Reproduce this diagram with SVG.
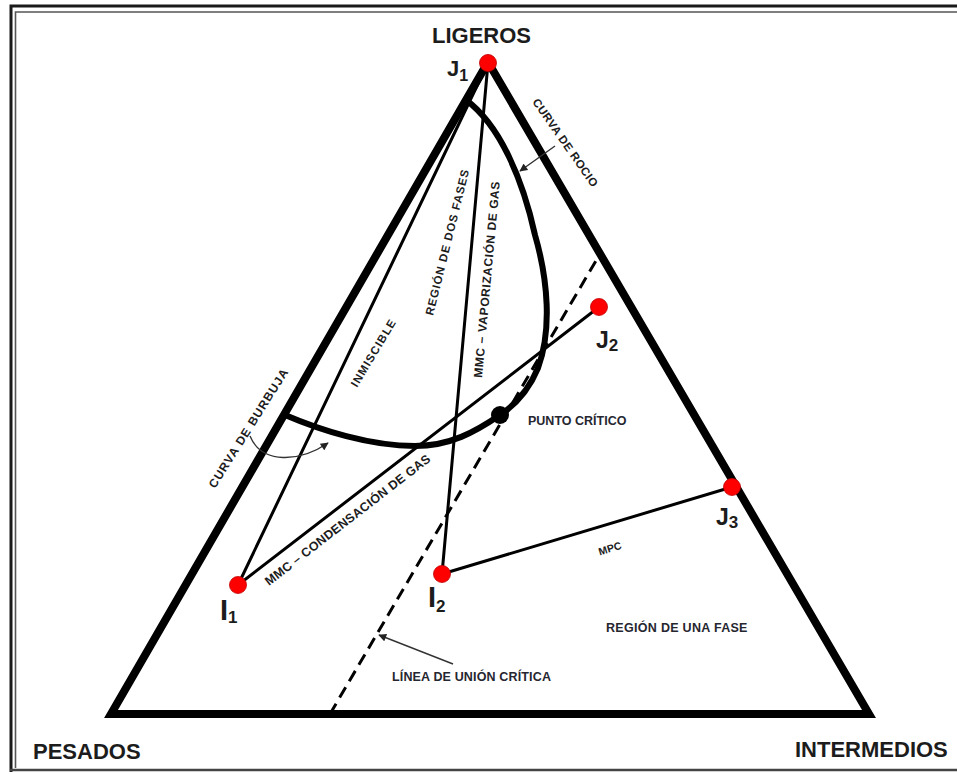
<svg xmlns="http://www.w3.org/2000/svg" width="957" height="774" viewBox="0 0 957 774">
  <style>
    .lbl { font-family: "Liberation Sans", Arial, sans-serif; font-weight: bold; fill: #1c1c1c; }
    .small { font-size: 12.5px; fill: #262630; }
    .big { font-size: 22px; }
    .tie { stroke: #000; stroke-width: 3; fill: none; stroke-linecap: round; }
    .pt { fill: #ff0000; stroke: #c00000; stroke-width: 0.8; }
    .ptr { stroke: #333; stroke-width: 1.4; fill: none; }
  </style>
  <defs>
    <marker id="arrowhead" viewBox="0 0 10 10" refX="9" refY="5" markerWidth="9" markerHeight="8" markerUnits="userSpaceOnUse" orient="auto">
      <path d="M0,0 L10,5 L0,10 z" fill="#222"/>
    </marker>
  </defs>

  <rect width="957" height="774" fill="#fff"/>

  <!-- double page frame -->
  <g id="frame" fill="none">
    <path d="M11,772 V6 H957" stroke="#1a1a1a" stroke-width="3"/>
    <path d="M15.5,768 V12 H957" stroke="#555" stroke-width="1.6"/>
    <path d="M10,770 H957" stroke="#444" stroke-width="2.5"/>
  </g>

  <g id="connectors">
    <!-- critical tie line -->
    <line x1="330" y1="714" x2="597" y2="259" stroke="#000" stroke-width="3" stroke-dasharray="12 7"/>
    <!-- displacement paths -->
    <line class="tie" x1="488" y1="63" x2="238" y2="585"/>
    <line class="tie" x1="488" y1="63" x2="442" y2="574"/>
    <line class="tie" x1="238" y1="585" x2="599" y2="307"/>
    <line class="tie" x1="442" y1="574" x2="732" y2="487"/>
    <!-- two-phase envelope: dew curve then bubble curve -->
    <path d="M466,100 C500,125 523,180 535,235 C548,280 552,330 538,368 C528,392 515,405 500,415 C475,432 450,446 415,446 C370,446 320,430 285,415" fill="none" stroke="#000" stroke-width="6"/>
    <!-- ternary triangle -->
    <path d="M488,62 L869,714 L111,714 Z" fill="none" stroke="#000" stroke-width="8" stroke-linejoin="miter"/>
    <!-- label pointers -->
    <line class="ptr" x1="555" y1="146" x2="520" y2="171" marker-end="url(#arrowhead)"/>
    <path class="ptr" d="M250,436 C262,465 300,462 328,443" marker-end="url(#arrowhead)"/>
    <line class="ptr" x1="453" y1="664" x2="379" y2="635" marker-end="url(#arrowhead)"/>
  </g>

  <g id="J1">
    <circle class="pt" cx="488" cy="63" r="8.5"/>
    <text class="lbl" x="447" y="76" font-size="22">J<tspan font-size="16" dy="5">1</tspan></text>
  </g>
  <g id="J2">
    <circle class="pt" cx="599" cy="307" r="8.5"/>
    <text class="lbl" x="596" y="348" font-size="23">J<tspan font-size="17" dy="3">2</tspan></text>
  </g>
  <g id="J3">
    <circle class="pt" cx="732" cy="487" r="8.5"/>
    <text class="lbl" x="716" y="525" font-size="23">J<tspan font-size="17" dy="3">3</tspan></text>
  </g>
  <g id="I1">
    <circle class="pt" cx="238" cy="585" r="8.5"/>
    <text class="lbl" x="220" y="620" font-size="29">I<tspan font-size="17" dy="3">1</tspan></text>
  </g>
  <g id="I2">
    <circle class="pt" cx="442" cy="574" r="8.5"/>
    <text class="lbl" x="428" y="607" font-size="29">I<tspan font-size="17" dy="5">2</tspan></text>
  </g>
  <g id="critical-point">
    <circle cx="500" cy="415" r="9" fill="#000"/>
    <text class="lbl small" x="528" y="425">PUNTO CRÍTICO</text>
  </g>

  <g id="labels">
    <text class="lbl big" x="432" y="43">LIGEROS</text>
    <text class="lbl big" x="33" y="759">PESADOS</text>
    <text class="lbl big" x="795" y="757">INTERMEDIOS</text>
    <text class="lbl small" x="606" y="632" letter-spacing="0.3">REGIÓN DE UNA FASE</text>
    <text class="lbl small" x="392" y="681" letter-spacing="0.15">LÍNEA DE UNIÓN CRÍTICA</text>
    <text class="lbl" font-size="11.5" letter-spacing="0.4" transform="translate(532,102) rotate(55)">CURVA DE ROCIO</text>
    <text class="lbl" font-size="11.5" letter-spacing="0.9" transform="translate(433,316) rotate(-76)">REGIÓN DE DOS FASES</text>
    <text class="lbl" font-size="12" letter-spacing="0.6" transform="translate(482,378) rotate(-84.8)">MMC – VAPORIZACIÓN DE GAS</text>
    <text class="lbl" font-size="11.5" letter-spacing="1.1" transform="translate(357,388) rotate(-59)">INMISCIBLE</text>
    <text class="lbl" font-size="12" letter-spacing="1" transform="translate(215,489) rotate(-57.8)">CURVA DE BURBUJA</text>
    <text class="lbl" font-size="12.5" letter-spacing="0.3" transform="translate(269,586) rotate(-37.7)">MMC – CONDENSACIÓN DE GAS</text>
    <text class="lbl" font-size="10.5" text-anchor="middle" transform="translate(611,552) rotate(-17)">MPC</text>
  </g>
</svg>
